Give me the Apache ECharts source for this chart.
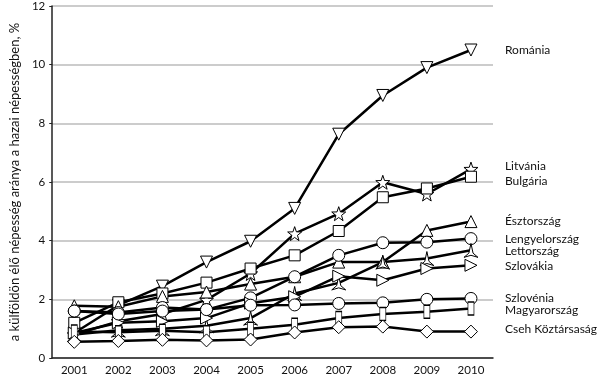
<!DOCTYPE html>
<html>
<head>
<meta charset="utf-8">
<script src="https://cdn.jsdelivr.net/npm/echarts@6/dist/echarts.min.js"></script>
<style>
  html, body { margin: 0; padding: 0; background: #fff; }
  #chart { width: 600px; height: 377px; }
</style>
</head>
<body>
<div id="chart"></div>
<script>
const years = ['2001', '2002', '2003', '2004', '2005', '2006', '2007', '2008', '2009', '2010']

const romania = [0.85, 1.8, 2.45, 3.27, 3.98, 5.1, 7.63, 8.95, 9.9, 10.5]
const litvania = [0.8, 1.25, 1.5, 1.98, 2.88, 4.24, 4.92, 5.99, 5.59, 6.44]
const bulgaria = [1.2, 1.9, 2.2, 2.57, 3.05, 3.5, 4.33, 5.48, 5.78, 6.18]
const esztorszag = [1.78, 1.75, 2.1, 2.25, 2.52, 2.77, 3.27, 3.27, 4.35, 4.65]
const lengyelorszag = [1.6, 1.55, 1.72, 1.65, 2.05, 2.77, 3.5, 3.93, 3.95, 4.07]
const lettorszag = [0.8, 0.95, 1.0, 1.1, 1.36, 2.2, 2.56, 3.27, 3.39, 3.67]
const szlovakia = [0.85, 1.2, 1.25, 1.36, 1.87, 2.09, 2.79, 2.65, 3.05, 3.16]
const szlovenia = [1.6, 1.5, 1.6, 1.65, 1.8, 1.81, 1.86, 1.88, 2.0, 2.03]
const magyarorszag = [0.9, 0.88, 0.93, 0.88, 1.0, 1.13, 1.36, 1.5, 1.58, 1.69]
const cseh = [0.55, 0.58, 0.62, 0.6, 0.63, 0.87, 1.05, 1.07, 0.9, 0.9]

const STAR = 'path://M0,-10 L2.35,-3.24 L9.51,-3.09 L3.8,1.24 L5.88,8.09 L0,4 L-5.88,8.09 L-3.8,1.24 L-9.51,-3.09 L-2.35,-3.24 Z'
const TRISTAR = 'path://M0,-10 L2.6,0.5 L8.7,5 L0,2.8 L-8.7,5 L-2.6,0.5 Z'

const FONT = 'Lato'

// name, data, symbol, size, rotate, label vertical shift
const defs = [
  ['Románia', romania, 'triangle', 12, 180, 0],
  ['Litvánia', litvania, STAR, 14, 0, -3],
  ['Bulgária', bulgaria, 'rect', 11, 0, 4],
  ['Észtország', esztorszag, 'triangle', 12, 0, 0],
  ['Lengyelország', lengyelorszag, 'circle', 12, 0, 1],
  ['Lettország', lettorszag, TRISTAR, 14, 0, 1],
  ['Szlovákia', szlovakia, 'triangle', 12, -90, 1],
  ['Szlovénia', szlovenia, 'circle', 12, 0, 0],
  ['Magyarország', magyarorszag, 'rect', [6, 13], 0, 2],
  ['Cseh Köztársaság', cseh, 'diamond', 13, 0, -2]
]

const chart = echarts.init(document.getElementById('chart'))

chart.setOption({
  animation: false,
  grid: {
    left: 33,
    right: 107,
    top: 4,
    bottom: 19
  },
  xAxis: {
    type: 'category',
    data: years,
    boundaryGap: true,
    axisLine: { lineStyle: { color: '#222', width: 1.5 } },
    axisTick: { show: false },
    axisLabel: { color: '#111', fontFamily: FONT, fontSize: 11.5, margin: 6 }
  },
  yAxis: {
    type: 'value',
    min: 0,
    max: 12,
    interval: 2,
    name: 'a külföldön élő népesség aránya a hazai népességben, %',
    nameLocation: 'middle',
    nameGap: 22,
    nameTextStyle: { color: '#111', fontFamily: FONT, fontSize: 13 },
    axisLine: { show: true, lineStyle: { color: '#222', width: 1.5 } },
    axisTick: { show: true, length: 3, lineStyle: { color: '#222' } },
    axisLabel: { color: '#111', fontFamily: FONT, fontSize: 11.5, margin: 7 },
    splitLine: { lineStyle: { color: '#bbb', width: 1.5 } }
  },
  series: defs.map(([name, data, symbol, size, rotate, dy]) => ({
    name,
    type: 'line',
    data,
    symbol,
    symbolSize: size,
    symbolRotate: rotate,
    showAllSymbol: true,
    lineStyle: { color: '#000', width: 2.5 },
    itemStyle: { color: '#fff', borderColor: '#000', borderWidth: 1 },
    endLabel: {
      show: true,
      formatter: name,
      color: '#111',
      fontFamily: FONT,
      fontSize: 12,
      distance: 0,
      offset: [34, dy]
    }
  }))
})
</script>
</body>
</html>
